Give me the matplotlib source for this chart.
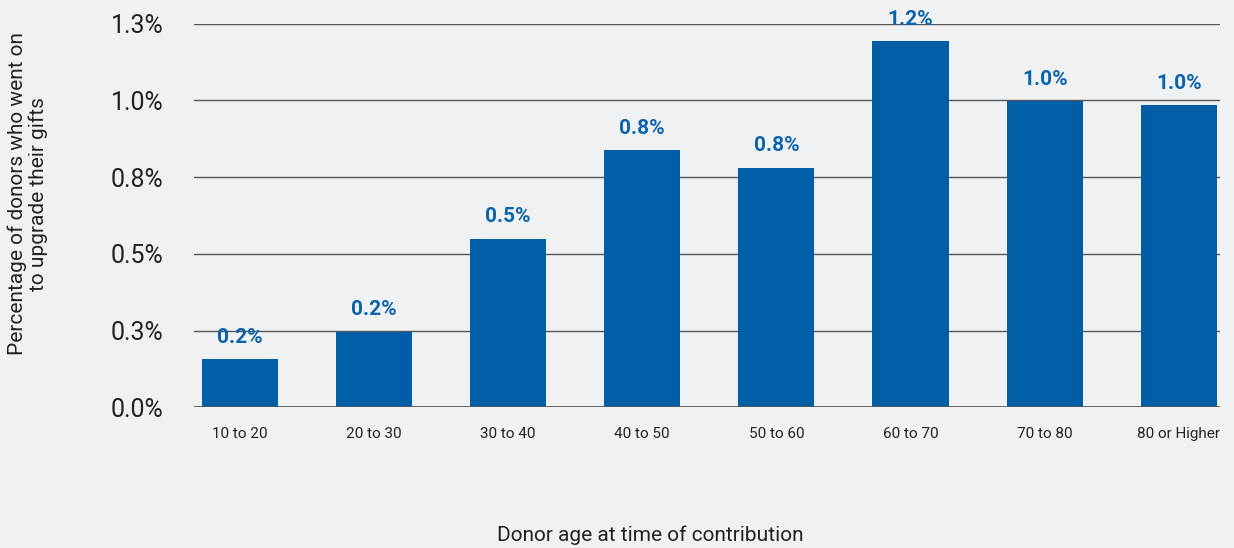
import numpy as np
import matplotlib.pyplot as plt

plt.rcParams['font.family'] = ['Roboto', 'DejaVu Sans']

# Porcentaje de donantes que aumentaron su donacion, por rango de edad
grupos = ["10 to 20", "20 to 30", "30 to 40", "40 to 50",
          "50 to 60", "60 to 70", "70 to 80", "80 or Higher"]
porcentaje = [0.156, 0.246, 0.549, 0.837, 0.780, 1.193, 0.998, 0.984]
ticks_y = [0.0, 0.25, 0.5, 0.75, 1.0, 1.25]
etiquetas_y = ["0.0%", "0.3%", "0.5%", "0.8%", "1.0%", "1.3%"]

fondo = "#f0f1f3"
azul = "#005ea6"

fig = plt.figure(figsize=(12.34, 5.48), dpi=100, facecolor=fondo)
ax = fig.add_axes([194/1234, 1 - 407.3/548, (1220 - 194)/1234, (407.3 - 23.7)/548])
ax.set_facecolor(fondo)

x = np.arange(len(grupos))
barras = ax.bar(x, porcentaje, width=0.567, color=azul, zorder=3)

for xi, v in zip(x, porcentaje):
    ax.annotate("{:.1f}%".format(v), (xi, v), xytext=(0, 9), textcoords="offset points",
                ha="center", va="bottom", fontsize=15, fontweight="bold",
                color="#0b63ad", annotation_clip=False, zorder=4)

ax.set_ylim(0, 1.25)
ax.set_xlim(-0.343, 7.308)
ax.set_yticks(ticks_y)
ax.set_yticklabels(etiquetas_y, fontsize=18, color="#222222")
ax.set_xticks(x)
ax.set_xticklabels(grupos, fontsize=11, color="#222222")
ax.tick_params(axis="y", length=0, pad=22)
ax.tick_params(axis="x", length=0, pad=14)

for t in ticks_y[1:]:
    ax.axhline(t, color="#555555", linewidth=1.0, zorder=1)
ax.axhline(0, color="#555555", linewidth=2.0, zorder=4)

for s in ax.spines.values():
    s.set_visible(False)

fig.text(28/1234, 1 - 194/548, "Percentage of donors who went on\nto upgrade their gifts",
         rotation=90, ha="center", va="center", fontsize=15, color="#222222",
         linespacing=1.1)
fig.text(650/1234, 1 - 535/548, "Donor age at time of contribution",
         ha="center", va="center", fontsize=15, color="#222222")

fig.savefig("out.png", dpi=100, facecolor=fondo)
